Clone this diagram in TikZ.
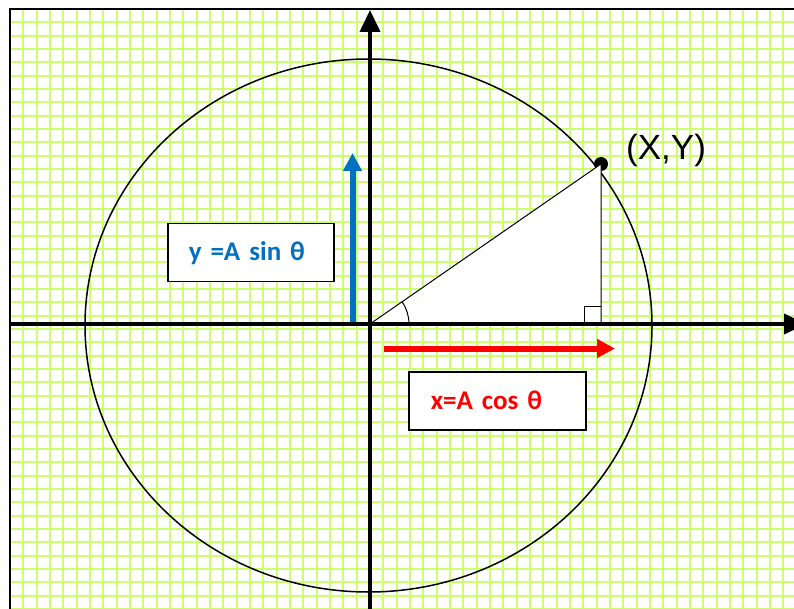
\documentclass[tikz,border=0pt]{standalone}
\usepackage{fontspec}
\usepackage{xcolor}
\usepackage{tikz}
\usetikzlibrary{arrows.meta, positioning}
\newfontfamily\labelfont{Carlito}
\newfontfamily\pointfont{Liberation Sans}
\definecolor{gridgreen}{RGB}{204, 255, 110}
\definecolor{sinblue}{RGB}{0, 112, 192}
\definecolor{cosred}{RGB}{255, 0, 0}

\begin{document}
\begin{tikzpicture}[
    x=1pt, y=-1pt,
    gridline/.style={draw=gridgreen, line width=2pt},
    axis/.style={line width=4pt, -{Triangle[length=22pt, width=20pt]}},
    component/.style={line width=6pt, -{Triangle[length=18pt, width=18pt]}},
    labelbox/.style={rectangle, draw=black, line width=1.5pt, fill=white, minimum height=58pt, align=left, inner ysep=0pt, font=\labelfont\bfseries\fontsize{27}{32}\selectfont}
]
    \useasboundingbox (0, 0) rectangle (794, 609);
    \clip (0, 0) rectangle (794, 609);

    % Grid paper
    \foreach \i in {0,...,59} \draw [gridline] ({10+13.333*\i}, 9) -- ({10+13.333*\i}, 609);
    \foreach \j in {0,...,45} \draw [gridline] (10, {9+13.333*\j}) -- (794, {9+13.333*\j});
    \draw [line width=2pt] (794, 9) -- (10, 9) -- (10, 609);

    % Reference points
    \coordinate (O) at (370, 324);
    \coordinate (C) at (368.5, 325.5);
    \coordinate (F) at (601, 324);
    \node (P) [circle, fill=black, inner sep=0pt, minimum size=14pt] at (601, 164) {};

    % Circle of radius A
    \draw [line width=1.5pt] (C) ellipse [x radius=283.5, y radius=266.5];

    % Right triangle
    \fill [white] (O) -- (P.center) -- (F) -- cycle;
    \draw [line width=1pt] (O) -- (P.center) -- (F);
    \draw [line width=1pt] (F) ++(-17, 0) -- ++(0, -18) -- ++(17, 0);
    \draw [line width=1pt] (O) ++(39, 0) arc [start angle=0, end angle=-34.6, radius=39];

    % Axes
    \coordinate (xleft) at (10, 324);
    \coordinate (xright) at (806, 324);
    \coordinate (ybottom) at (370, 609);
    \coordinate (ytop) at (370, 10);
    \draw [axis] (xleft) -- (xright);
    \draw [axis] (ybottom) -- (ytop);

    % Components
    \coordinate (sinfoot) at (352.5, 322);
    \coordinate (sintip) at (352.5, 153);
    \coordinate (cosfoot) at (384, 348.5);
    \coordinate (costip) at (615, 348.5);
    \draw [component, draw=sinblue, fill=sinblue] (sinfoot) -- (sintip);
    \draw [component, draw=cosred, fill=cosred] (cosfoot) -- (costip);

    % Labels
    \node (pointlabel) [anchor=west, inner sep=0pt, font=\pointfont\fontsize{35}{40}\selectfont] at (626, 150) {(X,Y)};
    \node (sinlabel) [labelbox, text=sinblue, anchor=north west, inner xsep=21pt, text width=124pt] at (167, 223) {y =A sin θ};
    \node (coslabel) [labelbox, text=cosred, anchor=north west, inner xsep=22pt, text width=133pt] at (408, 371) {x=A cos θ};

\end{tikzpicture}
\end{document}
